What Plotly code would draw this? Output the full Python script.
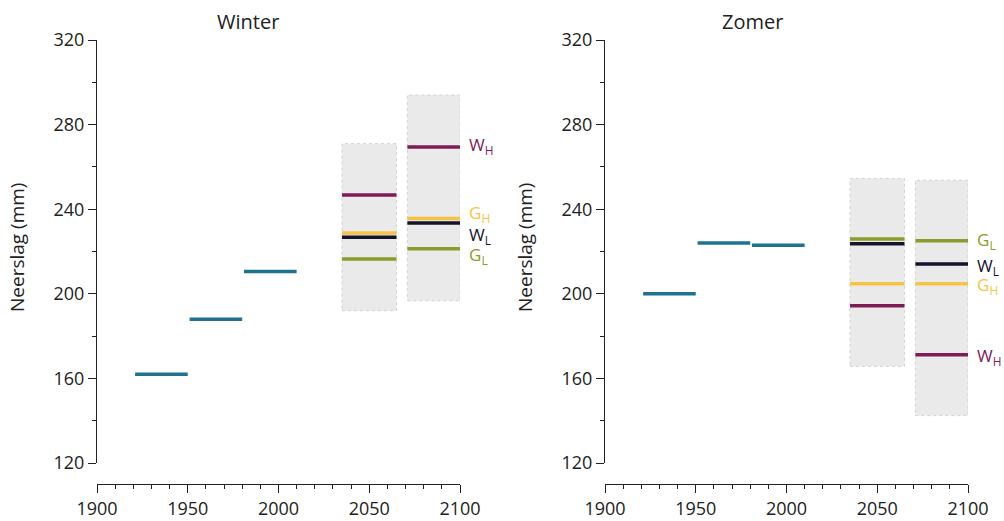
import plotly.graph_objects as go

# ---- data ----
hist_start = [1921, 1951, 1981]
hist_end = [1950, 1980, 2010]
winter_hist = [162, 188, 210.6]
zomer_hist = [200, 224, 223]

periods = ["2050", "2085"]
period_start = [2035, 2071]
period_end = [2065, 2100]

winter_box_low = [192, 196.7]
winter_box_high = [271, 294]
zomer_box_low = [165.7, 142.4]
zomer_box_high = [254.5, 253.7]

scenarios = ["G_L", "G_H", "W_L", "W_H"]
winter_scen = {"G_L": [216.4, 221.3], "G_H": [228.7, 235.6], "W_L": [226.7, 233.5], "W_H": [246.7, 269.4]}
zomer_scen = {"G_L": [225.9, 225.1], "G_H": [204.8, 204.8], "W_L": [223.7, 214.1], "W_H": [194.3, 171.2]}

scen_label = {"G_L": "G<sub>L</sub>", "G_H": "G<sub>H</sub>", "W_L": "W<sub>L</sub>", "W_H": "W<sub>H</sub>"}
scen_color = {"G_L": "#8c9b2b", "G_H": "#f6c445", "W_L": "#13132a", "W_H": "#7e1d55"}
hist_color = "#1f7390"

# label offsets (layout only) to avoid overlap
winter_label_dy = {"G_L": -3.0, "G_H": 2.5, "W_L": -6.0, "W_H": 0.5}
zomer_label_dy = {"G_L": 0.0, "G_H": -1.0, "W_L": -1.0, "W_H": -0.8}

FONT = "Open Sans"
TXT = "#222"

W, H = 1004, 521
def px(x):
    return x / W
def py(y):
    return 1 - y / H

fig = go.Figure()

panels = [
    ("x", "y", winter_hist, winter_box_low, winter_box_high, winter_scen, winter_label_dy),
    ("x2", "y2", zomer_hist, zomer_box_low, zomer_box_high, zomer_scen, zomer_label_dy),
]

for xa, ya, hist, blo, bhi, scen, ldy in panels:
    for i in range(len(periods)):
        fig.add_shape(type="rect", xref=xa, yref=ya,
                      x0=period_start[i], x1=period_end[i], y0=blo[i], y1=bhi[i],
                      fillcolor="#eaeaea", line=dict(color="#d2d2d2", width=1, dash="dot"),
                      layer="below")
    for s, e, v in zip(hist_start, hist_end, hist):
        fig.add_trace(go.Scatter(x=[s, e], y=[v, v], mode="lines", xaxis=xa, yaxis=ya,
                                 line=dict(color=hist_color, width=3.5), showlegend=False,
                                 hoverinfo="skip", cliponaxis=False))
    for key in ["G_L", "W_H", "G_H", "W_L"]:
        for i in range(len(periods)):
            v = scen[key][i]
            fig.add_trace(go.Scatter(x=[period_start[i], period_end[i]], y=[v, v], mode="lines",
                                     xaxis=xa, yaxis=ya,
                                     line=dict(color=scen_color[key], width=3.5), showlegend=False,
                                     hoverinfo="skip", cliponaxis=False))
    for key in scenarios:
        fig.add_annotation(x=1.02, y=scen[key][-1] + ldy[key], xref=xa + " domain", yref=ya,
                           text=scen_label[key], showarrow=False, xanchor="left", yanchor="middle",
                           font=dict(family=FONT, size=17, color=scen_color[key]))

common_x = dict(range=[1900, 2100], tickvals=[1900, 1950, 2000, 2050, 2100],
                ticks="outside", ticklen=8, tickwidth=1, tickcolor=TXT,
                showline=True, linecolor=TXT, linewidth=1, showgrid=False, zeroline=False,
                minor=dict(dtick=10, ticks="outside", ticklen=4, tickwidth=1, tickcolor=TXT, showgrid=False),
                tickfont=dict(family=FONT, size=18, color=TXT), anchor="free",
                position=py(484), automargin=False, fixedrange=True)
common_y = dict(range=[120, 320], tickvals=[120, 160, 200, 240, 280, 320],
                ticks="outside", ticklen=8, tickwidth=1, tickcolor=TXT,
                showline=True, linecolor=TXT, linewidth=1, showgrid=False, zeroline=False,
                minor=dict(tickvals=[140, 180, 220, 260, 300], ticks="outside", ticklen=4,
                           tickwidth=1, tickcolor=TXT, showgrid=False),
                tickfont=dict(family=FONT, size=18, color=TXT),
                domain=[py(463), py(40)], automargin=False, fixedrange=True)

fig.update_layout(
    width=W, height=H,
    margin=dict(l=0, r=0, t=0, b=0, autoexpand=False),
    paper_bgcolor="white", plot_bgcolor="white",
    xaxis=dict(**common_x, domain=[px(97), px(460)]),
    yaxis=dict(**common_y, anchor="x"),
    xaxis2=dict(**common_x, domain=[px(605), px(968)]),
    yaxis2=dict(**common_y, anchor="x2"),
    showlegend=False,
)

for title, cx in [("Winter", 248), ("Zomer", 752)]:
    fig.add_annotation(text=title, x=px(cx), y=py(22), xref="paper", yref="paper",
                       xanchor="center", yanchor="middle",
                       showarrow=False, font=dict(family=FONT, size=20, color=TXT))
for cx in [17, 525]:
    fig.add_annotation(text="Neerslag (mm)", x=px(cx), y=py(248), xref="paper", yref="paper",
                       xanchor="center", yanchor="middle",
                       textangle=-90, showarrow=False, font=dict(family=FONT, size=19, color=TXT))

fig.write_html("out.html", config={"displayModeBar": False},
               post_script="document.body.style.margin='0';document.body.style.overflow='hidden';")
